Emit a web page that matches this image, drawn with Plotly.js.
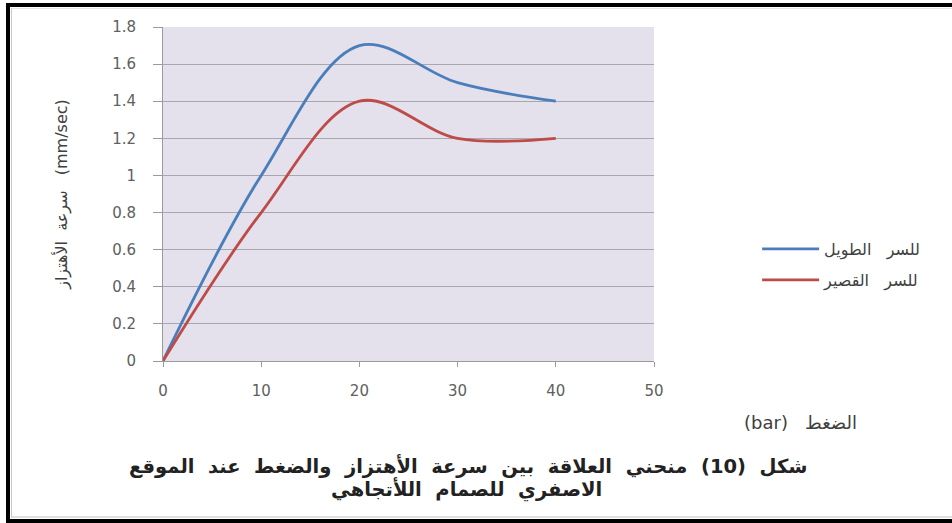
<!DOCTYPE html>
<html>
<head>
<meta charset="utf-8">
<script src="https://cdn.plot.ly/plotly-3.0.1.min.js"></script>
<style>
  html, body { margin: 0; padding: 0; background: #ffffff; }
  #wrap { position: relative; width: 952px; height: 523px; overflow: hidden; }
  #chart { position: absolute; left: 0; top: 0; width: 952px; height: 523px; }
  #frame { position: absolute; left: 6px; top: 3px; width: 950px; height: 512px;
           border-left: 4px solid #000; border-top: 4px solid #000; border-bottom: 4px solid #000;
           pointer-events: none; }
  #inner { position: absolute; left: 11px; top: 8px; width: 945px; height: 507px;
           border-left: 1px solid #c8c8c8; border-top: 1px solid #e6e6e6; border-bottom: 2px solid #e0e0e0;
           pointer-events: none; }
</style>
</head>
<body>
<div id="wrap">
  <div id="chart"></div>
  <div id="inner"></div>
  <div id="frame"></div>
</div>
<script>
// Data
const pressure = [0, 10, 20, 30, 40];                 // الضغط (bar)
const longStroke = [0, 1.0, 1.7, 1.5, 1.4];           // للسر الطويل
const shortStroke = [0, 0.8, 1.4, 1.2, 1.2];          // للسر القصير
const seriesNames = ['للسر   الطويل', 'للسر   القصير'];
const xTicks = [0, 10, 20, 30, 40, 50];
const yTicks = [0, 0.2, 0.4, 0.6, 0.8, 1, 1.2, 1.4, 1.6, 1.8];

// Caption text (normal Arabic reading order)
const captionLine1 = ['شكل', '(10)', 'منحني', 'العلاقة', 'بين', 'سرعة', 'الأهتزاز', 'والضغط', 'عند', 'الموقع'];
const captionLine2 = ['الاصفري', 'للصمام', 'اللأتجاهي'];
const joinWords = words => words.join('  ');

const axisFont = { family: 'DejaVu Sans, sans-serif', size: 15, color: '#606060' };
const arabicFont = 'DejaVu Sans, Noto Sans, sans-serif';

const traces = [
  { x: pressure, y: longStroke, name: seriesNames[0], type: 'scatter', mode: 'lines',
    line: { color: '#4a7ebb', width: 2.8, shape: 'spline', smoothing: 1 }, legend: 'legend' },
  { x: pressure, y: shortStroke, name: seriesNames[1], type: 'scatter', mode: 'lines',
    line: { color: '#be4b48', width: 2.8, shape: 'spline', smoothing: 1 }, legend: 'legend2' }
];

const legendStyle = (yy) => ({
  x: 1.21, xanchor: 'left', y: yy, yanchor: 'middle',
  bgcolor: 'rgba(0,0,0,0)', borderwidth: 0, itemwidth: 57,
  font: { family: arabicFont, size: 16, color: '#404040' }
});

const layout = {
  width: 952, height: 523,
  margin: { l: 163, r: 298, t: 27, b: 162 },
  paper_bgcolor: '#ffffff',
  plot_bgcolor: '#e4e0ec',
  showlegend: true,
  legend: legendStyle((361 - 249) / 334),
  legend2: legendStyle((361 - 280) / 334),
  xaxis: {
    range: [0, 50], tickvals: xTicks, ticktext: xTicks.map(String),
    showgrid: false, zeroline: false,
    showline: true, linecolor: '#9a9a9a', linewidth: 1,
    ticks: 'outside', ticklen: 5, tickcolor: '#9a9a9a',
    tickfont: axisFont, ticklabelstandoff: 11, fixedrange: true
  },
  yaxis: {
    range: [0, 1.8], tickvals: yTicks, ticktext: yTicks.map(String),
    showgrid: true, gridcolor: '#a9a7ae', gridwidth: 1,
    zeroline: false,
    showline: true, linecolor: '#9a9a9a', linewidth: 1,
    ticks: 'outside', ticklen: 9, tickcolor: '#9a9a9a',
    tickfont: axisFont, ticklabelstandoff: 14, fixedrange: true,
    title: { text: 'سرعة  الأهتزاز   (mm/sec)', standoff: 40,
             font: { family: arabicFont, size: 16, color: '#404040' } }
  },
  annotations: [
    { text: '(bar)   الضغط', xref: 'paper', yref: 'paper',
      x: (800 - 163) / 491, y: (361 - 422) / 334, xanchor: 'center', yanchor: 'middle',
      showarrow: false, font: { family: arabicFont, size: 18, color: '#404040' } },
    { text: '<b>' + joinWords(captionLine1) + '</b>', xref: 'paper', yref: 'paper',
      x: (468 - 163) / 491, y: (361 - 465) / 334, xanchor: 'center', yanchor: 'middle',
      showarrow: false, font: { family: arabicFont, size: 19.5, color: '#222222' } },
    { text: '<b>' + joinWords(captionLine2) + '</b>', xref: 'paper', yref: 'paper',
      x: (466 - 163) / 491, y: (361 - 489) / 334, xanchor: 'center', yanchor: 'middle',
      showarrow: false, font: { family: arabicFont, size: 19.5, color: '#222222' } }
  ]
};

Plotly.newPlot('chart', traces, layout, { staticPlot: true, displayModeBar: false });
</script>
</body>
</html>
